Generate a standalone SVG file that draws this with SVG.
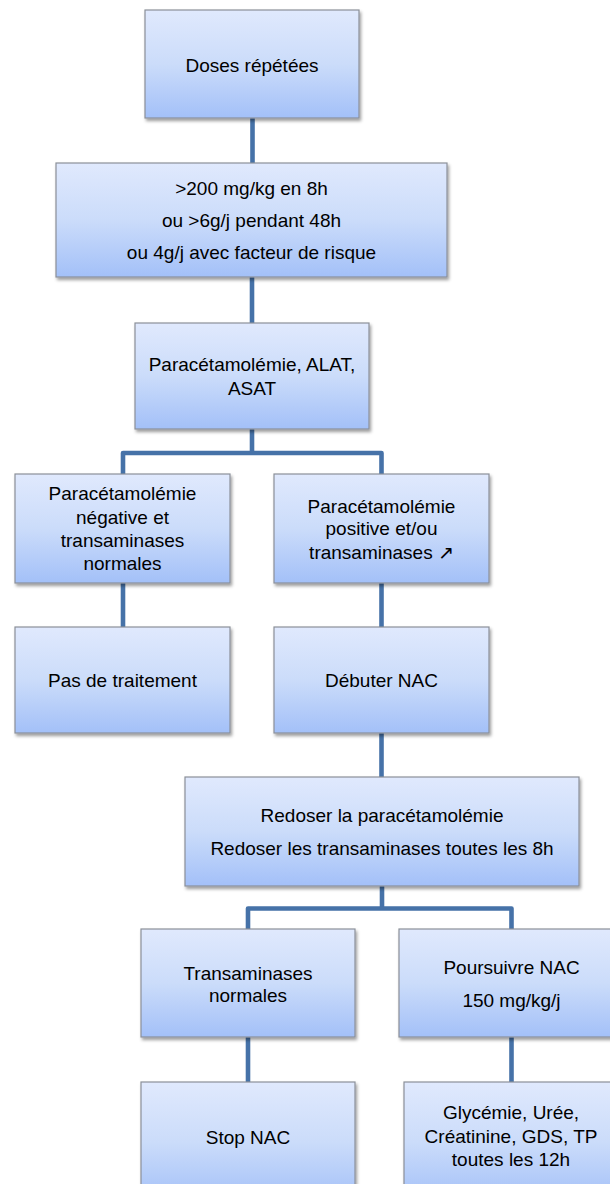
<svg xmlns="http://www.w3.org/2000/svg" width="610" height="1184" viewBox="0 0 610 1184">
<style>
.box{fill:url(#g);stroke:#8b9099;stroke-width:1.2;filter:url(#sh)}
.t{font-family:"Liberation Sans",Arial,"DejaVu Sans",sans-serif;font-size:19px;fill:#000;text-anchor:middle}
.c{fill:none;stroke:#4672a8;stroke-width:4.6;stroke-linejoin:round}
</style>
<defs>
<linearGradient id="g" x1="0" y1="0" x2="0" y2="1">
<stop offset="0" stop-color="#e0e9fd"/>
<stop offset="0.5" stop-color="#cbdcfa"/>
<stop offset="1" stop-color="#a3c0f8"/>
</linearGradient>
<filter id="sh" x="-10%" y="-10%" width="125%" height="125%">
<feDropShadow dx="1.5" dy="2.5" stdDeviation="1.6" flood-color="#000" flood-opacity="0.38"/>
</filter>
</defs>
<rect width="610" height="1184" fill="#fff"/>
<g id="connectors">
<path class="c" d="M252.5,118 V163"/>
<path class="c" d="M252,277 V323"/>
<path class="c" d="M252,429 V453"/>
<path class="c" d="M123,474 V453 H381.5 V474"/>
<path class="c" d="M123,583 V627"/>
<path class="c" d="M381.5,583 V627"/>
<path class="c" d="M381.5,733 V777"/>
<path class="c" d="M382,886 V908.5"/>
<path class="c" d="M248,929 V908.5 H511.5 V929"/>
<path class="c" d="M248,1037 V1082"/>
<path class="c" d="M511.5,1037 V1082"/>
</g>
<g id="n1"><rect class="box" x="145" y="10" width="214" height="108"/><text class="t" x="252" y="72">Doses répétées</text></g>
<g id="n2"><rect class="box" x="56" y="163" width="391" height="114"/>
<text class="t" x="251.5" y="195">&gt;200 mg/kg en 8h</text>
<text class="t" x="251.5" y="227">ou &gt;6g/j pendant 48h</text>
<text class="t" x="251.5" y="259">ou 4g/j avec facteur de risque</text></g>
<g id="n3"><rect class="box" x="135" y="323" width="234" height="106"/>
<text class="t" x="252" y="371">Paracétamolémie, ALAT,</text>
<text class="t" x="252" y="395">ASAT</text></g>
<g id="n4"><rect class="box" x="15" y="474" width="215" height="109"/>
<text class="t" x="122.5" y="500">Paracétamolémie</text>
<text class="t" x="122.5" y="523.5">négative et</text>
<text class="t" x="122.5" y="547">transaminases</text>
<text class="t" x="122.5" y="569.5">normales</text></g>
<g id="n5"><rect class="box" x="274" y="474" width="215" height="109"/>
<text class="t" x="381.5" y="512.5">Paracétamolémie</text>
<text class="t" x="381.5" y="535">positive et/ou</text>
<text class="t" x="381.5" y="558.5">transaminases ↗</text></g>
<g id="n6"><rect class="box" x="15" y="627" width="215" height="106"/>
<text class="t" x="122.5" y="687">Pas de traitement</text></g>
<g id="n7"><rect class="box" x="274" y="627" width="215" height="106"/>
<text class="t" x="381.5" y="687">Débuter NAC</text></g>
<g id="n8"><rect class="box" x="185" y="777" width="394" height="109"/>
<text class="t" x="382" y="822">Redoser la paracétamolémie</text>
<text class="t" x="382" y="854.5">Redoser les transaminases toutes les 8h</text></g>
<g id="n9"><rect class="box" x="141" y="929" width="214" height="108"/>
<text class="t" x="248" y="979.5">Transaminases</text>
<text class="t" x="248" y="1002">normales</text></g>
<g id="n10"><rect class="box" x="399" y="929" width="225" height="108"/>
<text class="t" x="511.5" y="974">Poursuivre NAC</text>
<text class="t" x="511.5" y="1007">150 mg/kg/j</text></g>
<g id="n11"><rect class="box" x="141" y="1082" width="214" height="120"/>
<text class="t" x="248" y="1143.5">Stop NAC</text></g>
<g id="n12"><rect class="box" x="404" y="1082" width="215" height="120"/>
<text class="t" x="511" y="1118.5">Glycémie, Urée,</text>
<text class="t" x="511" y="1142.5">Créatinine, GDS, TP</text>
<text class="t" x="511" y="1166">toutes les 12h</text></g>
</svg>
